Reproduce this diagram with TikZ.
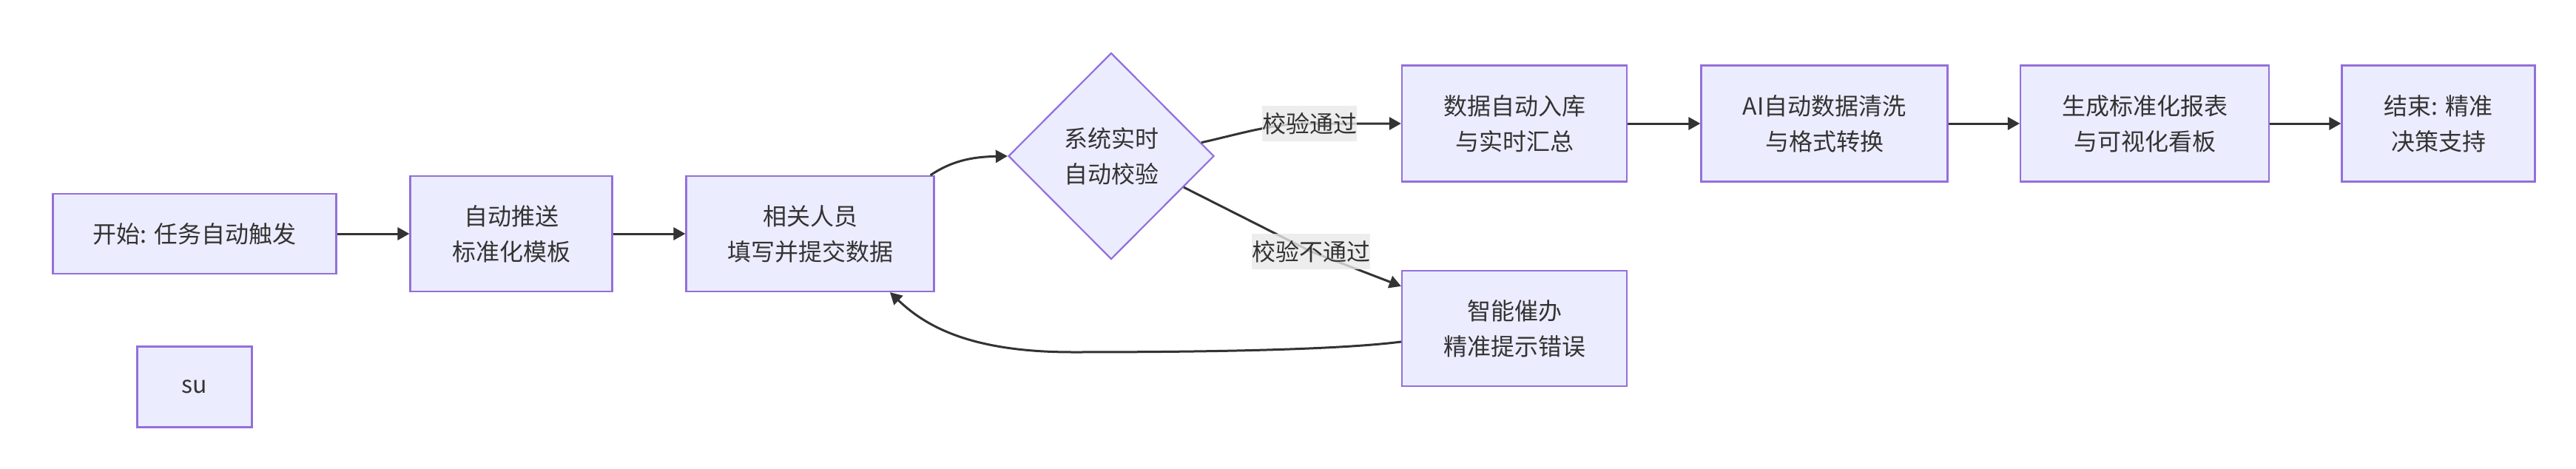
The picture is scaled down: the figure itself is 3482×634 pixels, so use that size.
\documentclass[tikz,border=0pt]{standalone}
\usepackage{fontspec}
\setmainfont{Noto Sans CJK SC}
\usetikzlibrary{shapes.geometric,arrows.meta,calc}
\definecolor{boxfill}{HTML}{ECECFF}
\definecolor{boxline}{HTML}{9370DB}
\definecolor{ink}{HTML}{333333}
\definecolor{lblbg}{HTML}{E8E8E8}
\begin{document}
\begin{tikzpicture}[x=1pt,y=-1pt,
  box/.style={draw=boxline, fill=boxfill, line width=2.2pt, text=ink, align=center,
    inner sep=0pt, font=\fontsize{32}{48}\selectfont},
  decision/.style={box, diamond, minimum width=278pt, minimum height=279pt},
  edge/.style={draw=ink, line width=3pt, -{Triangle[length=16pt,width=17pt]}},
  lbl/.style={fill=lblbg, fill opacity=0.8, text opacity=1, text=ink, inner sep=0pt,
    minimum height=48pt, font=\fontsize{32}{48}\selectfont}]
\useasboundingbox (0,0) rectangle (3482,634);

\node[box, minimum width=383pt, minimum height=108pt] (start) at (263,316) {开始: 任务自动触发};
\node[box, minimum width=273pt, minimum height=156pt] (push) at (691,316) {自动推送\\标准化模板};
\node[box, minimum width=335pt, minimum height=156pt] (fill) at (1095,316) {相关人员\\填写并提交数据};
\node[decision] (dia) at (1502,211) {系统实时\\自动校验};
\node[box, minimum width=304pt, minimum height=157pt] (db) at (2047,167) {数据自动入库\\与实时汇总};
\node[box, minimum width=333pt, minimum height=157pt] (ai) at (2466,167) {AI自动数据清洗\\与格式转换};
\node[box, minimum width=336pt, minimum height=157pt] (rep) at (2899,167) {生成标准化报表\\与可视化看板};
\node[box, minimum width=261pt, minimum height=157pt] (end) at (3296,167) {结束: 精准\\决策支持};
\node[box, minimum width=304pt, minimum height=156pt] (smart) at (2047,444) {智能催办\\精准提示错误};
\node[box, minimum width=155pt, minimum height=109pt] (su) at (263,523) {su};

\coordinate (pa) at ($(dia.east)!0.13!(dia.north)$);
\coordinate (pb) at ($(dia.east)!0.3!(dia.south)$);

\draw[edge] (start.east) -- (push.west);
\draw[edge] (push.east) -- (fill.west);
\draw[edge] ([xshift=-6pt]fill.north east) .. controls (1290,215) and (1320,212) .. (dia.west);
\draw[edge] (pa) .. controls (1680,180) and (1720,167) .. (1770,167)
  node[lbl, minimum width=128pt] (l1) {校验通过} -- (db.west);
\draw[edge] (pb) -- (1772,340) node[lbl, minimum width=160pt] (l2) {校验不通过}
  -- ([yshift=-22pt]smart.north west);
\draw[edge] (db.east) -- (ai.west);
\draw[edge] (ai.east) -- (rep.west);
\draw[edge] (rep.east) -- (end.west);
\draw[edge] ([yshift=-18pt]smart.west) .. controls (1800,474) and (1600,476) .. (1450,476)
  .. controls (1310,476) and (1250,440) .. ([xshift=108pt]fill.south);
\end{tikzpicture}
\end{document}
